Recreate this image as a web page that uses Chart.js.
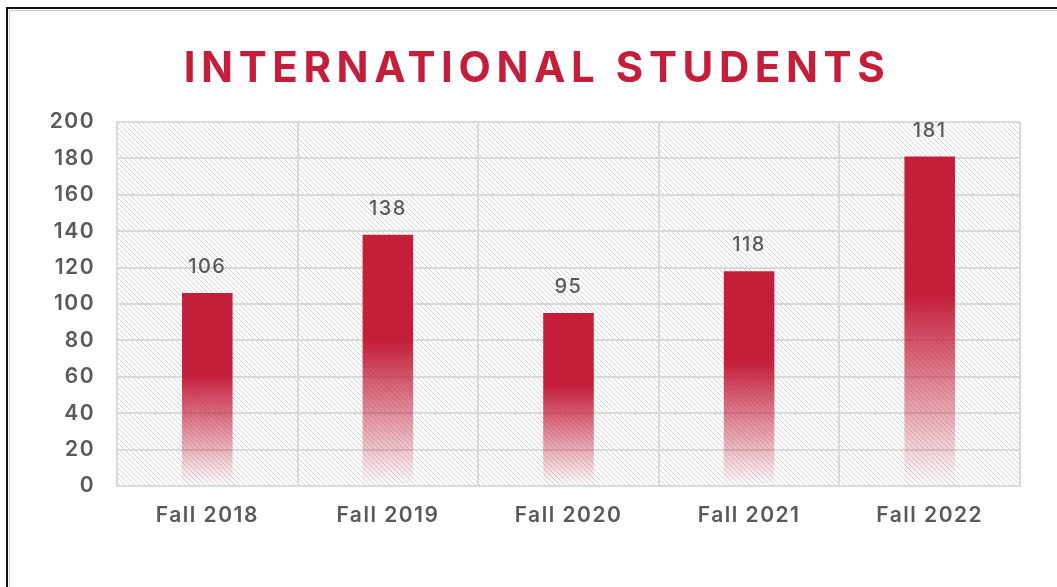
<!DOCTYPE html>
<html>
<head>
<meta charset="utf-8">
<script src="https://cdn.jsdelivr.net/npm/chart.js@4"></script>
<style>
  html, body { margin: 0; padding: 0; background: #fff; }
  #wrap { position: relative; width: 1057px; height: 587px; overflow: hidden; }
  #frame { position: absolute; left: 6px; top: 7px; width: 1100px; height: 640px;
           border-left: 2px solid #111; border-top: 2px solid #111; }
  #frame-inner { position: absolute; left: 9px; top: 10px; width: 1100px; height: 640px;
           border-left: 1px solid #cfcfcf; border-top: 1px solid #cfcfcf; }
  #title { position: absolute; left: 0; width: 1074px; top: 39px; text-align: center;
           font-family: Inter, "DejaVu Sans", sans-serif; font-weight: 700; font-size: 42px;
           letter-spacing: 5.6px; color: #C41E3A; line-height: 56px; }
  #chart { position: absolute; left: 0; top: 0; }
</style>
</head>
<body>
<div id="wrap">
  <div id="frame"></div>
  <div id="frame-inner"></div>
  <canvas id="chart" width="1057" height="587"></canvas>
  <div id="title">INTERNATIONAL STUDENTS</div>
</div>
<script>
// values
const categories = ['Fall 2018', 'Fall 2019', 'Fall 2020', 'Fall 2021', 'Fall 2022'];
const students = [106, 138, 95, 118, 181];
const yMax = 200;
const yStep = 20;

const RED = '196,30,58';
const GREY_TEXT = '#595959';
const FONT = 'Inter, "DejaVu Sans", sans-serif';

// diagonal hatch for plot background
function makeHatch() {
  const c = document.createElement('canvas');
  c.width = 5; c.height = 5;
  const g = c.getContext('2d');
  g.strokeStyle = 'rgba(170,170,170,0.5)';
  g.lineWidth = 1;
  g.beginPath();
  g.moveTo(-1, -1); g.lineTo(6, 6);
  g.moveTo(-1, 4); g.lineTo(1, 6);
  g.moveTo(4, -1); g.lineTo(6, 1);
  g.stroke();
  return c;
}
const hatchTile = makeHatch();

const hatchPlugin = {
  id: 'hatch',
  beforeDraw(chart) {
    const { ctx, chartArea: a } = chart;
    // wider text, closer to the reference's geometric face
    ctx.letterSpacing = '1.5px';
    ctx.save();
    ctx.fillStyle = ctx.createPattern(hatchTile, 'repeat');
    ctx.fillRect(a.left, a.top, a.right - a.left, a.bottom - a.top);
    ctx.restore();
  }
};

const valueLabels = {
  id: 'valueLabels',
  afterDatasetsDraw(chart) {
    const { ctx } = chart;
    const meta = chart.getDatasetMeta(0);
    ctx.save();
    ctx.font = '500 20px ' + FONT;
    ctx.fillStyle = GREY_TEXT;
    ctx.textAlign = 'center';
    ctx.textBaseline = 'middle';
    meta.data.forEach((bar, i) => {
      ctx.fillText(String(students[i]), bar.x, bar.y - 26);
    });
    ctx.restore();
  }
};

function barFill(context) {
  const chart = context.chart;
  if (!chart.chartArea || context.type !== 'data') return `rgb(${RED})`;
  const y = chart.scales.y;
  const top = y.getPixelForValue(context.raw);
  const bottom = y.getPixelForValue(0);
  const g = chart.ctx.createLinearGradient(0, top, 0, bottom);
  g.addColorStop(0, `rgba(${RED},1)`);
  g.addColorStop(0.42, `rgba(${RED},1)`);
  g.addColorStop(0.68, `rgba(${RED},0.55)`);
  g.addColorStop(1, `rgba(${RED},0.0)`);
  return g;
}

new Chart(document.getElementById('chart'), {
  type: 'bar',
  data: {
    labels: categories,
    datasets: [{
      data: students,
      backgroundColor: barFill,
      borderWidth: 0,
      barPercentage: 0.28,
      categoryPercentage: 1
    }]
  },
  plugins: [hatchPlugin, valueLabels],
  options: {
    responsive: false,
    animation: false,
    layout: { padding: { left: 30, right: 37, top: 122, bottom: 41 } },
    plugins: { legend: { display: false }, tooltip: { enabled: false } },
    scales: {
      x: {
        grid: { color: '#d9d9d9', lineWidth: 2, drawTicks: false, offset: true },
        border: { color: '#d9d9d9', width: 2 },
        ticks: { color: GREY_TEXT, font: { family: FONT, size: 21, weight: '600' }, padding: 17 },
        afterFit(s) { s.height = 60; }
      },
      y: {
        min: 0, max: yMax,
        grid: { color: '#d9d9d9', lineWidth: 2, drawTicks: false },
        border: { color: '#d9d9d9', width: 2 },
        ticks: { stepSize: yStep, color: GREY_TEXT, font: { family: FONT, size: 21, weight: '600' }, padding: 22 },
        afterFit(s) { s.width = 87; }
      }
    }
  }
});
</script>
</body>
</html>
